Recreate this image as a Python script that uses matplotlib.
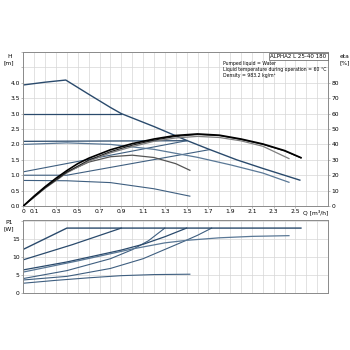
import matplotlib.pyplot as plt
import numpy as np

# Pump curves for ALPHA2 L 25-40 180.
# Q in m3/h, H in m, eta in %, P1 in W.

# head curves
q_max = [0, 0.2, 0.39, 0.6, 0.8, 0.9, 1.2, 1.5, 1.7, 1.96, 2.2, 2.54]
h_max = [3.93, 4.02, 4.09, 3.63, 3.2, 3.0, 2.58, 2.13, 1.85, 1.5, 1.22, 0.84]
q_cp2 = [0, 0.9]
h_cp2 = [3.0, 3.0]
q_cp1 = [0, 1.5]
h_cp1 = [2.1, 2.12]
q_ii = [0, 0.4, 0.8, 1.2, 1.6, 1.91, 2.2, 2.44]
h_ii = [2.0, 2.05, 2.0, 1.84, 1.58, 1.33, 1.07, 0.77]
q_pp2 = [0, 1.5]
h_pp2 = [1.11, 2.12]
q_pp1 = [0, 0.4, 1.71]
h_pp1 = [1.0, 1.0, 1.83]
q_i = [0, 0.4, 0.8, 1.2, 1.53]
h_i = [0.83, 0.82, 0.76, 0.56, 0.32]

# efficiency curves
q_eta3 = [0, 0.1, 0.2, 0.3, 0.4, 0.5, 0.6, 0.8, 1.0, 1.2, 1.4, 1.6, 1.8, 2.0, 2.2, 2.4, 2.55]
eta3 = [0, 6.5, 12.5, 18, 23, 27.5, 31, 36.5, 40.5, 43.5, 45.8, 46.8, 46, 43.5, 40.3, 36, 31.4]
q_eta3b = [0, 0.2, 0.4, 0.6, 0.8, 1.0, 1.2, 1.4, 1.6, 1.8, 2.0, 2.2, 2.4, 2.55]
eta3b = [0, 11.8, 22, 29.8, 35.3, 39.5, 42.8, 45.2, 46.4, 45.7, 43.2, 40, 35.7, 31.2]
q_eta2 = [0, 0.2, 0.4, 0.6, 0.8, 1.0, 1.2, 1.4, 1.6, 1.8, 2.0, 2.2, 2.44]
eta2 = [0, 11.5, 21.5, 29, 34.5, 38.5, 42, 44.2, 45.2, 44.5, 42.3, 38.8, 30.8]
q_eta1 = [0, 0.2, 0.4, 0.6, 0.8, 1.0, 1.2, 1.4, 1.53]
eta1 = [0, 12, 22, 28.5, 32, 33, 31.5, 27.5, 23.2]

# power curves
q_p3 = [0, 0.4, 2.55]
p3 = [12.1, 18, 18]
q_pcp2 = [0, 0.45, 0.9]
pcp2 = [9.2, 13.4, 18]
q_pcp1 = [0, 0.4, 0.9, 1.1, 1.3, 1.5]
pcp1 = [6.4, 8.6, 11.9, 13.5, 15.6, 18]
q_pii = [0, 0.5, 1.0, 1.3, 1.5, 1.8, 2.1, 2.44]
pii = [5.8, 8.9, 12.2, 13.9, 14.6, 15.3, 15.7, 15.9]
q_ppp2 = [0, 0.4, 0.8, 1.0, 1.15, 1.3]
ppp2 = [4.0, 6.2, 9.5, 12.0, 14.5, 18]
q_ppp1 = [0, 0.4, 0.8, 1.1, 1.45, 1.6, 1.73]
ppp1 = [3.6, 4.6, 6.8, 9.5, 14.0, 16.0, 18]
q_pi = [0, 0.3, 0.6, 0.9, 1.2, 1.53]
pi = [2.7, 3.5, 4.2, 4.8, 5.1, 5.2]

x_ticks = [0, 0.1, 0.3, 0.5, 0.7, 0.9, 1.1, 1.3, 1.5, 1.7, 1.9, 2.1, 2.3, 2.5]

blue = '#3f5f80'
dark_blue = '#2a4a6c'
grid_col = '#d6d6d6'
spine_col = '#8a8a8a'
fs = 4.3

fig = plt.figure(figsize=(3.5, 3.5), dpi=100)
ax = fig.add_axes([0.0666, 0.4114, 0.871, 0.44])
ax2 = fig.add_axes([0.0666, 0.163, 0.871, 0.209])


def style_axes(a):
    a.set_xlim(0, 2.8)
    a.set_xticks(np.arange(0, 2.81, 0.1), minor=True)
    a.grid(True, which='both', axis='x', color=grid_col, lw=0.5)
    a.grid(True, which='major', axis='y', color=grid_col, lw=0.5)
    for s in a.spines.values():
        s.set_color(spine_col)
        s.set_linewidth(0.7)
    a.tick_params(axis='both', which='both', labelsize=fs, length=1.5, width=0.4,
                  color=spine_col, pad=1)
    a.tick_params(axis='x', which='minor', length=0)
    a.set_axisbelow(True)


# top chart: head and efficiency
style_axes(ax)
ax.set_ylim(0, 5)
ax.set_yticks(np.arange(0, 5.01, 0.5))
ax.set_yticklabels(['%.1f' % v for v in np.arange(0, 4.01, 0.5)] + ['', ''])
ax.set_xticks(x_ticks)
ax.set_xticklabels(['0' if v == 0 else '%g' % v for v in x_ticks])
ax.text(2.69, -0.13, 'Q [m³/h]', fontsize=fs, ha='center', va='top')
ax.text(-0.13, 4.93, 'H\n[m]', fontsize=fs, ha='center', va='top', linespacing=1.3)

ax.plot(q_cp2, h_cp2, color=dark_blue, lw=0.9)
ax.plot(q_cp1, h_cp1, color=dark_blue, lw=0.9)
ax.plot(q_pp2, h_pp2, color=blue, lw=0.8)
ax.plot(q_pp1, h_pp1, color=blue, lw=0.8)
ax.plot(q_ii, h_ii, color='#5a7896', lw=0.9)
ax.plot(q_i, h_i, color=blue, lw=0.8)
ax.plot(q_max, h_max, color=dark_blue, lw=1.0)

ax_eta = ax.twinx()
ax_eta.set_ylim(0, 100)
ax_eta.set_yticks(np.arange(0, 81, 10))
for s in ax_eta.spines.values():
    s.set_visible(False)
ax_eta.tick_params(axis='y', labelsize=fs, length=1.5, width=0.4, color=spine_col, pad=1)
ax_eta.plot(q_eta1, eta1, color='#555555', lw=0.9)
ax_eta.plot(q_eta2, eta2, color='#808080', lw=0.9)
ax_eta.plot(q_eta3b, eta3b, color='#222222', lw=0.8)
ax_eta.plot(q_eta3, eta3, color='#000000', lw=1.2)
ax_eta.text(2.95, 98.5, 'eta\n[%]', fontsize=fs, ha='center', va='top', linespacing=1.3)

ax.text(1.83, 4.72, 'Pumped liquid = Water\nLiquid temperature during operation = 60 °C\nDensity = 983.2 kg/m³',
        fontsize=3.3, ha='left', va='top', linespacing=1.35)
ax.text(2.785, 4.935, 'ALPHA2 L 25-40 180', fontsize=4.0, ha='right', va='top',
        bbox=dict(boxstyle='square,pad=0.25', fc='white', ec='#555555', lw=0.5))

# bottom chart: power consumption
style_axes(ax2)
ax2.set_ylim(0, 20.3)
ax2.set_yticks([0, 5, 10, 15, 20])
ax2.set_yticklabels(['0', '5', '10', '15', ''])
ax2.set_xticks(x_ticks)
ax2.set_xticklabels([])
ax2.tick_params(axis='x', length=0)
ax2.text(-0.13, 20.2, 'P1\n[W]', fontsize=fs, ha='center', va='top', linespacing=1.3)

ax2.plot(q_pi, pi, color=blue, lw=0.8)
ax2.plot(q_ppp1, ppp1, color=blue, lw=0.8)
ax2.plot(q_ppp2, ppp2, color=blue, lw=0.8)
ax2.plot(q_pii, pii, color='#5a7896', lw=0.9)
ax2.plot(q_pcp1, pcp1, color=dark_blue, lw=0.9)
ax2.plot(q_pcp2, pcp2, color=dark_blue, lw=0.9)
ax2.plot(q_p3, p3, color=dark_blue, lw=1.0)

fig.savefig('out.png', dpi=100)
